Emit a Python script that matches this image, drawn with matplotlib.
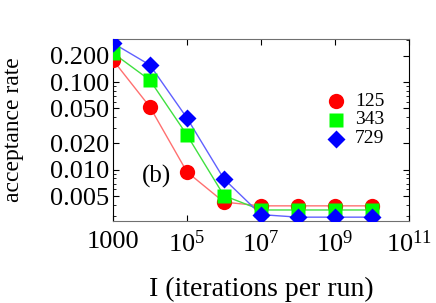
import numpy as np
import matplotlib
matplotlib.use('Agg')
import matplotlib.pyplot as plt
from matplotlib.ticker import FixedLocator, FixedFormatter, NullFormatter

plt.rcParams['font.family'] = ['Liberation Serif', 'DejaVu Serif']
plt.rcParams['mathtext.fontset'] = 'custom'
plt.rcParams['mathtext.rm'] = 'Liberation Serif'
plt.rcParams['mathtext.it'] = 'Liberation Serif:italic'

# iterations per run
iters = [1e3, 1e4, 1e5, 1e6, 1e7, 1e8, 1e9, 1e10]

# acceptance rate per system size
rate_125 = [0.178, 0.052, 0.0095, 0.0043, 0.0039, 0.0039, 0.0039, 0.0039]
rate_343 = [0.214, 0.105, 0.025, 0.0051, 0.0035, 0.0035, 0.0035, 0.0035]
rate_729 = [0.277, 0.156, 0.039, 0.0079, 0.0031, 0.0029, 0.0029, 0.0029]

labels = ['125', '343', '729']

xticks = [1e3, 1e5, 1e7, 1e9, 1e11]
xtick_labels = ['1000', r'$10^5$', r'$10^7$', r'$10^9$', r'$10^{11}$']
yticks = [0.2, 0.1, 0.05, 0.02, 0.01, 0.005]
ytick_labels = ['0.200', '0.100', '0.050', '0.020', '0.010', '0.005']

fig = plt.figure(figsize=(4.36, 3.03), dpi=100)
ax = fig.add_axes([0.259, 0.271, 0.679, 0.60])

ax.plot(iters, rate_125, '-', color='#ff7070', lw=1, zorder=2)
ax.plot(iters, rate_343, '-', color='#40e040', lw=1, zorder=2)
ax.plot(iters, rate_729, '-', color='#6060ff', lw=1, zorder=2)
ax.plot(iters, rate_125, 'o', color='#ff0000', ms=11, mec='none', zorder=3)
ax.plot(iters, rate_343, 's', color='#00ff00', ms=10.5, mec='none', zorder=4)
ax.plot(iters, rate_729, 'D', color='#0000ff', ms=9, mec='none', zorder=5)

ax.set_xscale('log')
ax.set_yscale('log')
ax.set_xlim(1e3, 1e11)
ax.set_ylim(0.00263, 0.308)

ax.xaxis.set_major_locator(FixedLocator(xticks))
ax.xaxis.set_major_formatter(FixedFormatter(xtick_labels))
ax.xaxis.set_minor_formatter(NullFormatter())
ax.yaxis.set_major_locator(FixedLocator(yticks))
ax.yaxis.set_major_formatter(FixedFormatter(ytick_labels))
ax.yaxis.set_minor_formatter(NullFormatter())

ax.tick_params(which='both', direction='in', top=True, right=True, labelsize=19)
ax.tick_params(which='major', length=4, width=0.8)
ax.tick_params(which='minor', length=2, width=0.6)
ax.tick_params(axis='x', pad=7)
ax.tick_params(axis='y', pad=3)
for s in ['top', 'bottom']:
    ax.spines[s].set_color('#707070')

ax.set_xlabel('I (iterations per run)', fontsize=20, labelpad=14)
ax.set_ylabel('acceptance rate', fontsize=17)
ax.yaxis.set_label_coords(-0.30, 0.5)

ax.text(0.098, 0.247, '(b)', transform=ax.transAxes, fontsize=18, va='center')

# legend drawn by hand as in the original figure
leg_y = [0.0608, 0.037, 0.0225]
ax.plot([1.07e9], [leg_y[0]], 'o', color='#ff0000', ms=11, mec='none')
ax.plot([1.07e9], [leg_y[1]], 's', color='#00ff00', ms=10.5, mec='none')
ax.plot([1.07e9], [leg_y[2]], 'D', color='#0000ff', ms=9, mec='none')
for y, lab in zip(leg_y, labels):
    ax.text(3.5e9, y, lab, fontsize=14, va='center')

fig.savefig('out.png', dpi=100)
